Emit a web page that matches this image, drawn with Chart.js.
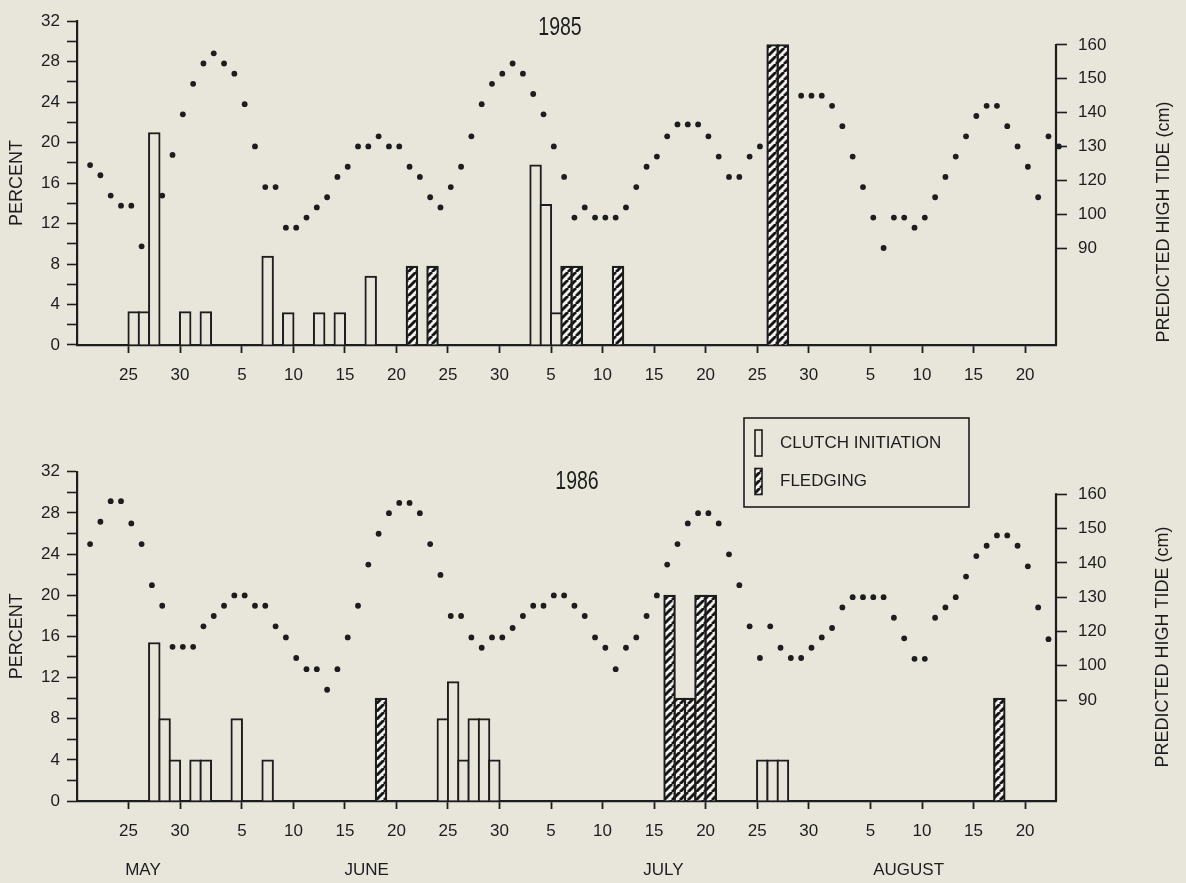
<!DOCTYPE html>
<html><head><meta charset="utf-8">
<script src="https://cdn.jsdelivr.net/npm/chart.js@4.4.1/dist/chart.umd.min.js"></script>
<style>
html,body{margin:0;padding:0;background:#e8e5db;}
#wrap{position:relative;width:1186px;height:883px;overflow:hidden;}
canvas{position:absolute;left:0;top:0;}
</style></head><body>
<div id="wrap"><canvas id="c1" width="1186" height="883"></canvas><canvas id="c2" width="1186" height="883"></canvas></div>
<script>
// ---- data (day index: 0 = 20 May) ----
const xTickDays   = [5,10,16,21,26,31,36,41,46,51,56,61,66,71,77,82,87,92];
const xTickLabels = ['25','30','5','10','15','20','25','30','5','10','15','20','25','30','5','10','15','20'];
const monthNames  = ['MAY','JUNE','JULY','AUGUST'];
const monthLabelDays = [6.4, 28.1, 56.9, 80.7];
const tideTickLabels = [90,100,120,130,140,150,160];

const clutch1985Days = [5,6,7,10,12,18,20,23,25,28,44,45,46];
const clutch1985Pct  = [3.3,3.3,21,3.3,3.3,8.8,3.2,3.2,3.2,6.8,17.8,13.9,3.2];
const fledge1985Days = [32,34,47,48,52,67,68];
const fledge1985Pct  = [7.8,7.8,7.8,7.8,7.8,29.7,29.7];
// predicted high tide (cm), day 1 .. 95 (null = hidden behind bars)
const tide1985 = [124.5,121.5,111,105,105,90.5,null,111,127.5,139.5,148.5,154.5,157.5,154.5,151.5,142.5,130,116,116,96,
  96,99,104,110,121,124,130,130,133,130,130,124,121,110,104,116,124,133,142.5,148.5,
  151.5,154.5,151.5,145.5,139.5,130,121,99,104,99,99,99,104,116,124,127,133,136.5,136.5,136.5,
  133,127,121,121,127,130,null,null,null,145,145,145,142,136,127,116,99,90,99,99,
  96,99,110,121,127,133,139,142,142,136,130,124,110,133,130];

const clutch1986Days = [7,8,9,11,12,15,18,35,36,37,38,39,40,66,67,68];
const clutch1986Pct  = [15.4,8,4,4,4,8,4,8,11.6,4,8,8,4,4,4,4];
const fledge1986Days = [29,57,58,59,60,61,89];
const fledge1986Pct  = [10,20,10,10,20,20,10];
const tide1986 = [145.5,152,158,158,151.5,145.5,133.5,127.5,111,111,111,121.5,124.5,127.5,130.5,130.5,127.5,127.5,121.5,116.5,
  104.5,99,99,93,99,116.5,127.5,139.5,148.5,154.5,157.5,157.5,154.5,145.5,136.5,124.5,124.5,116.5,110.5,116.5,
  116.5,121,124.5,127.5,127.5,130.5,130.5,127.5,124.5,116.5,110.5,99,110.5,116.5,124.5,130.5,139.5,145.5,151.5,154.5,
  154.5,151.5,142.5,133.5,121.5,104.5,121.5,110.5,104.5,104.5,110.5,116.5,121,127,130,130,130,130,124,116,
  104,104,124,127,130,136,142,145,148,148,145,139,127,115.5];

// ---- styling ----
const INK = '#1d1d1d';
const BG = '#e8e5db';
const FONT = "'Liberation Sans', Arial, Helvetica, sans-serif";

// tide axis is drawn with evenly spaced labels 90,100,120..160 (as in the original)
const toPos = cm => cm >= 120 ? 3 + (cm - 120) / 10 : (cm >= 100 ? 2 + (cm - 100) / 20 : 2 + (cm - 100) / 10);

function makeHatch() {
  const c = document.createElement('canvas');
  c.width = 8; c.height = 8;
  const g = c.getContext('2d');
  g.fillStyle = '#f4f2ec'; g.fillRect(0, 0, 8, 8);
  g.strokeStyle = '#161616'; g.lineWidth = 2.9;
  g.beginPath();
  for (const dx of [-8, 0, 8]) { g.moveTo(dx, 8); g.lineTo(dx + 8, 0); }
  g.stroke();
  return g.createPattern(c, 'repeat');
}
const hatch = makeHatch();

function datasets(clDays, clVals, flDays, flVals, tide) {
  return [
    { type: 'bar', label: 'CLUTCH INITIATION', data: clDays.map((d, i) => ({ x: d + 0.5, y: clVals[i] })),
      backgroundColor: BG, borderColor: INK, borderWidth: 2, barThickness: 11.8, grouped: false, order: 0,
      xAxisID: 'x', yAxisID: 'y' },
    { type: 'bar', label: 'FLEDGING', data: flDays.map((d, i) => ({ x: d + 0.5, y: flVals[i] })),
      backgroundColor: hatch, borderColor: INK, borderWidth: 2.2, barThickness: 11.8, grouped: false, order: 0,
      xAxisID: 'x', yAxisID: 'y' },
    { type: 'line', label: 'PREDICTED HIGH TIDE', data: tide.map((v, i) => ({ x: i + 1.27, y: v == null ? null : toPos(v) })),
      showLine: false, pointRadius: 2.9, pointBackgroundColor: INK, pointBorderWidth: 0, order: 2, clip: false,
      xAxisID: 'x', yAxisID: 'y2' }
  ];
}

function scales(y2min, y2max) {
  const tickFont = { family: FONT, size: 17 };
  return {
    x: { type: 'linear', position: 'bottom', min: 0, max: 95, offset: false,
      afterBuildTicks: s => { s.ticks = xTickDays.map(v => ({ value: v })); },
      afterFit: s => { s.height = 45; },
      ticks: { autoSkip: false, maxRotation: 0, minRotation: 0, padding: 12, color: INK, font: tickFont,
        callback: (v, i) => xTickLabels[i] },
      grid: { display: true, offset: false, drawOnChartArea: false, drawTicks: true, tickLength: 8, tickColor: INK, tickWidth: 1.8 },
      border: { display: true, color: INK, width: 2.2 } },
    y: { type: 'linear', position: 'left', min: 0, max: 32,
      afterFit: s => { s.width = 77; },
      ticks: { stepSize: 2, autoSkip: false, padding: 7, color: INK, font: tickFont,
        callback: v => (v % 4 === 0 ? String(v) : '') },
      grid: { drawOnChartArea: false, drawTicks: true, tickLength: 10, tickColor: INK, tickWidth: 1.6 },
      border: { display: true, color: INK, width: 2.2 },
      title: { display: true, text: 'PERCENT', color: INK, font: { family: FONT, size: 18 }, padding: { top: 6, bottom: 0 } } },
    y2: { type: 'linear', position: 'right', min: y2min, max: y2max,
      afterBuildTicks: s => { s.ticks = tideTickLabels.map(cm => ({ value: toPos(cm) })); },
      afterFit: s => { s.width = 130; },
      ticks: { autoSkip: false, padding: 11, color: INK, font: tickFont,
        callback: (v, i) => String(tideTickLabels[i]) },
      grid: { drawOnChartArea: false, drawTicks: true, tickLength: 11, tickColor: INK, tickWidth: 1.6 },
      border: { display: false } }
  };
}

const decor = {
  id: 'decor',
  afterDraw(chart, args, o) {
    const { ctx, chartArea: a, scales: s } = chart;
    ctx.save();
    // right (tide) axis line, from the 160 tick down to the base line
    ctx.strokeStyle = INK; ctx.lineWidth = 2.2;
    ctx.beginPath();
    ctx.moveTo(a.right, s.y2.getPixelForValue(toPos(tideTickLabels[tideTickLabels.length - 1])) - 1);
    ctx.lineTo(a.right, a.bottom);
    ctx.stroke();
    ctx.fillStyle = INK;
    // right axis title (reads bottom to top)
    ctx.save();
    ctx.translate(o.rtX, o.rtY); ctx.rotate(-Math.PI / 2);
    ctx.font = '18px ' + FONT; ctx.textAlign = 'center'; ctx.textBaseline = 'middle';
    ctx.fillText('PREDICTED HIGH TIDE (cm)', 0, 0);
    ctx.restore();
    // panel year
    ctx.save();
    ctx.translate(o.yearX, o.yearY); ctx.scale(0.78, 1);
    ctx.font = '25px ' + FONT; ctx.textAlign = 'center'; ctx.textBaseline = 'middle';
    ctx.fillText(o.year, 0, 0);
    ctx.restore();
    if (o.months) {
      ctx.font = '17px ' + FONT; ctx.textAlign = 'center'; ctx.textBaseline = 'middle';
      monthNames.forEach((m, i) => ctx.fillText(m, s.x.getPixelForValue(monthLabelDays[i]), a.bottom + 69));
    }
    if (o.legend) {
      const L = o.legend;
      ctx.lineWidth = 1.6; ctx.strokeStyle = INK;
      ctx.strokeRect(L.x, L.y, L.w, L.h);
      const items = [{ t: 'CLUTCH INITIATION', f: BG }, { t: 'FLEDGING', f: hatch }];
      items.forEach((it, i) => {
        const sy = L.y + 12 + i * 38.5;
        ctx.fillStyle = it.f; ctx.fillRect(L.x + 11, sy, 7, 26);
        ctx.lineWidth = 1.6; ctx.strokeRect(L.x + 11, sy, 7, 26);
        ctx.fillStyle = INK; ctx.font = '17px ' + FONT; ctx.textAlign = 'left'; ctx.textBaseline = 'middle';
        ctx.fillText(it.t, L.x + 36, sy + 13);
      });
    }
    ctx.restore();
  }
};

function makeChart(id, ds, sc, pad, decorOpts) {
  return new Chart(document.getElementById(id), {
    type: 'bar',
    data: { datasets: ds },
    options: {
      responsive: false, animation: false, devicePixelRatio: 1,
      layout: { padding: pad },
      scales: sc,
      plugins: { legend: { display: false }, tooltip: { enabled: false }, decor: decorOpts }
    },
    plugins: [decor]
  });
}

makeChart('c1', datasets(clutch1985Days, clutch1985Pct, fledge1985Days, fledge1985Pct, tide1985),
  scales(-1.865, 7.70), { left: 0, right: 0, top: 14.5, bottom: 883 - 345 - 45 },
  { rtX: 1164, rtY: 222, yearX: 560, yearY: 28, year: '1985' });

makeChart('c2', datasets(clutch1986Days, clutch1986Pct, fledge1986Days, fledge1986Pct, tide1986),
  scales(-1.946, 7.66), { left: 0, right: 0, top: 471.7, bottom: 883 - 801 - 45 },
  { rtX: 1163, rtY: 647, yearX: 577, yearY: 482, year: '1986', months: true,
    legend: { x: 744, y: 418, w: 225, h: 89 } });
</script>
</body></html>
